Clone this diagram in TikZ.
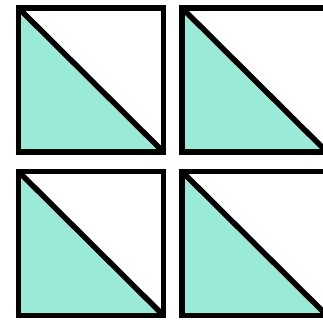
\documentclass[tikz,border=0pt]{standalone}
\usepackage{tikz}
\usepackage{xcolor}
\definecolor{ink}{HTML}{000000}
\definecolor{tealfill}{HTML}{9AEAD8}
\tikzset{
  tileframe/.style={draw=ink,line width=5.5pt},
  tilehalf/.style={fill=tealfill,draw=none}
}

\begin{document}
\begin{tikzpicture}[x=1pt,y=-1pt]
  \useasboundingbox (0,0) rectangle (323,320);
  % four tiles, lower-left half shaded
  \foreach \x/\y in {18.5/8,182/8,18.5/171.5,182/171.5} {
    \fill[tilehalf] (\x,\y) -- (\x,\y+144) -- (\x+145,\y+144) -- cycle;
    \draw[tileframe] (\x,\y) rectangle ++(145,144);
    \draw[tileframe] (\x,\y) -- ++(145,144);
  }
\end{tikzpicture}
\end{document}
